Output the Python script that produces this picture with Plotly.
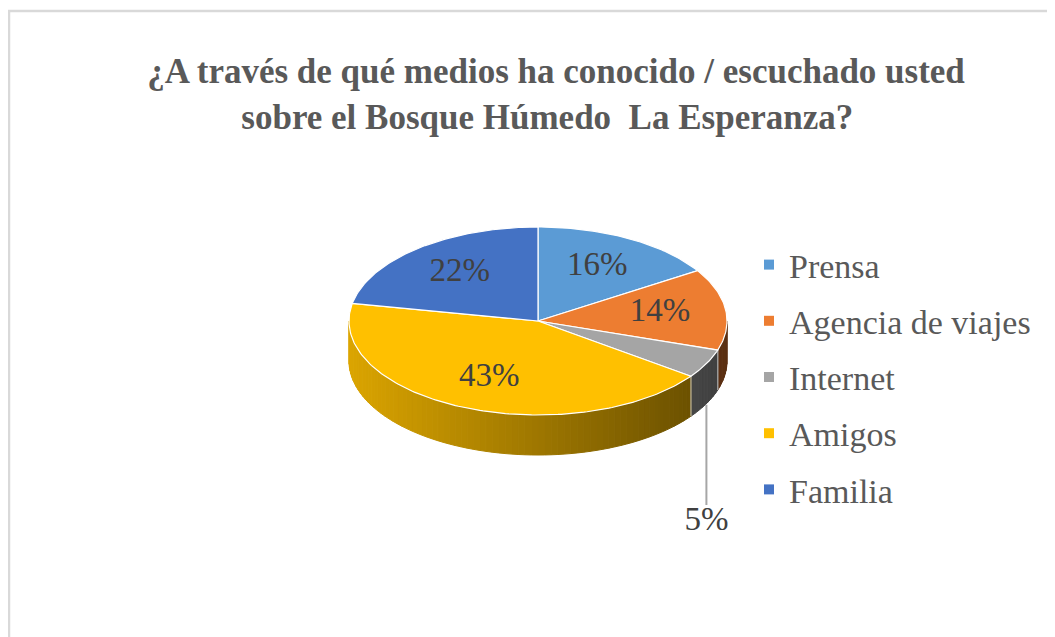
import math
import numpy as np
import plotly.graph_objects as go

# ---------------- data ----------------
categories = ["Prensa", "Agencia de viajes", "Internet", "Amigos", "Familia"]
values = [16, 14, 5, 43, 22]
colors = ["#5B9BD5", "#ED7D31", "#A5A5A5", "#FFC000", "#4472C4"]
pct_labels = [f"{v}%" for v in values]
outside_label = [False, False, True, False, False]

title_text = ("<b>¿A través de qué medios ha conocido / escuchado usted<br>"
              "sobre el Bosque Húmedo&nbsp; La Esperanza?&nbsp;&nbsp;</b>")

SERIF = "Liberation Serif, Times New Roman, serif"

# ---------------- geometry (page-pixel space) ----------------
W, H = 1055, 637
OFF = 8  # page body margin
CX, CY, RX, RY, DEPTH = 538, 321, 189, 94, 40


def pt(theta, dy=0.0):
    t = math.radians(theta)
    return CX + RX * math.sin(t), CY - RY * math.cos(t) + dy


def hex_rgb(h):
    h = h.lstrip("#")
    return tuple(int(h[i:i + 2], 16) for i in (0, 2, 4))


def shade(hexcol, x):
    f = 0.86 - 0.48 * (x - (CX - RX)) / (2 * RX)
    r, g, b = hex_rgb(hexcol)
    return f"rgb({int(r * f)},{int(g * f)},{int(b * f)})"


total = float(sum(values))
starts, ends = [], []
acc = 0.0
for v in values:
    starts.append(acc / total * 360)
    acc += v
    ends.append(acc / total * 360)

fig = go.Figure()

# ---------------- side walls (3D depth) ----------------
for i in range(len(values)):
    a, b = max(starts[i], 90), min(ends[i], 270)
    if a >= b:
        continue
    steps = list(np.arange(a, b, 2.0)) + [b]
    for t1, t2 in zip(steps[:-1], steps[1:]):
        ts = np.linspace(t1, t2, 4)
        top = [pt(t) for t in ts]
        bot = [pt(t, DEPTH) for t in ts[::-1]]
        poly = top + bot + [top[0]]
        xs = [p[0] for p in poly]
        ys = [p[1] for p in poly]
        col = shade(colors[i], (xs[0] + xs[3]) / 2)
        fig.add_trace(go.Scatter(x=xs, y=ys, mode="lines", fill="toself",
                                 fillcolor=col, line=dict(color=col, width=1),
                                 hoverinfo="skip", showlegend=False))
    for t in (a, b):
        if 90 < t < 270:
            x0, y0 = pt(t)
            x1, y1 = pt(t, DEPTH)
            fig.add_trace(go.Scatter(x=[x0, x1], y=[y0, y1], mode="lines",
                                     line=dict(color="rgba(210,210,210,0.8)", width=1),
                                     hoverinfo="skip", showlegend=False))

# ---------------- top faces ----------------
for i in range(len(values)):
    ts = np.linspace(starts[i], ends[i], max(3, int(ends[i] - starts[i]) + 2))
    pts = [(CX, CY)] + [pt(t) for t in ts] + [(CX, CY)]
    fig.add_trace(go.Scatter(x=[p[0] for p in pts], y=[p[1] for p in pts],
                             mode="lines", fill="toself", fillcolor=colors[i],
                             line=dict(color="white", width=1.2),
                             name=categories[i], hoverinfo="name",
                             showlegend=False))

# ---------------- data labels ----------------
lx, ly = [], []
for i in range(len(values)):
    mid = (starts[i] + ends[i]) / 2
    t = math.radians(mid)
    if outside_label[i]:
        xb, yb = pt(mid, DEPTH)
        fig.add_trace(go.Scatter(x=[xb, xb], y=[yb + 1, 505], mode="lines",
                                 line=dict(color="#A6A6A6", width=2),
                                 hoverinfo="skip", showlegend=False))
        lx.append(xb)
        ly.append(522)
    else:
        lx.append(CX + RX * 0.65 * math.sin(t))
        ly.append(CY - RY * 0.66 * math.cos(t))
fig.add_trace(go.Scatter(x=lx, y=ly, mode="text", text=pct_labels,
                         textfont=dict(family=SERIF, size=33, color="#404040"),
                         hoverinfo="skip", showlegend=False))

# ---------------- legend entries ----------------
for i, c in enumerate(categories):
    fig.add_trace(go.Scatter(x=[None], y=[None], mode="markers", name=c,
                             legendgroup=c,
                             marker=dict(symbol="square", size=10, color=colors[i])))

fig.add_shape(type="rect", xref="x", yref="y", x0=9, y0=11, x1=1100, y1=720,
              line=dict(color="#D9D9D9", width=2.5), layer="below")

fig.update_layout(
    width=W, height=H,
    margin=dict(l=0, r=0, t=0, b=0),
    paper_bgcolor="white", plot_bgcolor="white",
    title=dict(text=title_text, x=548 / W, xanchor="center", y=1 - 75 / H,
               yanchor="top", yref="container",
               font=dict(family=SERIF, size=35, color="#595959")),
    xaxis=dict(range=[OFF, W + OFF], visible=False, fixedrange=True),
    yaxis=dict(range=[H + OFF, OFF], visible=False, fixedrange=True),
    legend=dict(x=741 / W, xanchor="left", y=1 - 228 / H, yanchor="top",
                traceorder="grouped", tracegroupgap=9,
                font=dict(family=SERIF, size=34, color="#595959"),
                bgcolor="rgba(0,0,0,0)"),
    showlegend=True,
)

fig.write_html("out.html")
